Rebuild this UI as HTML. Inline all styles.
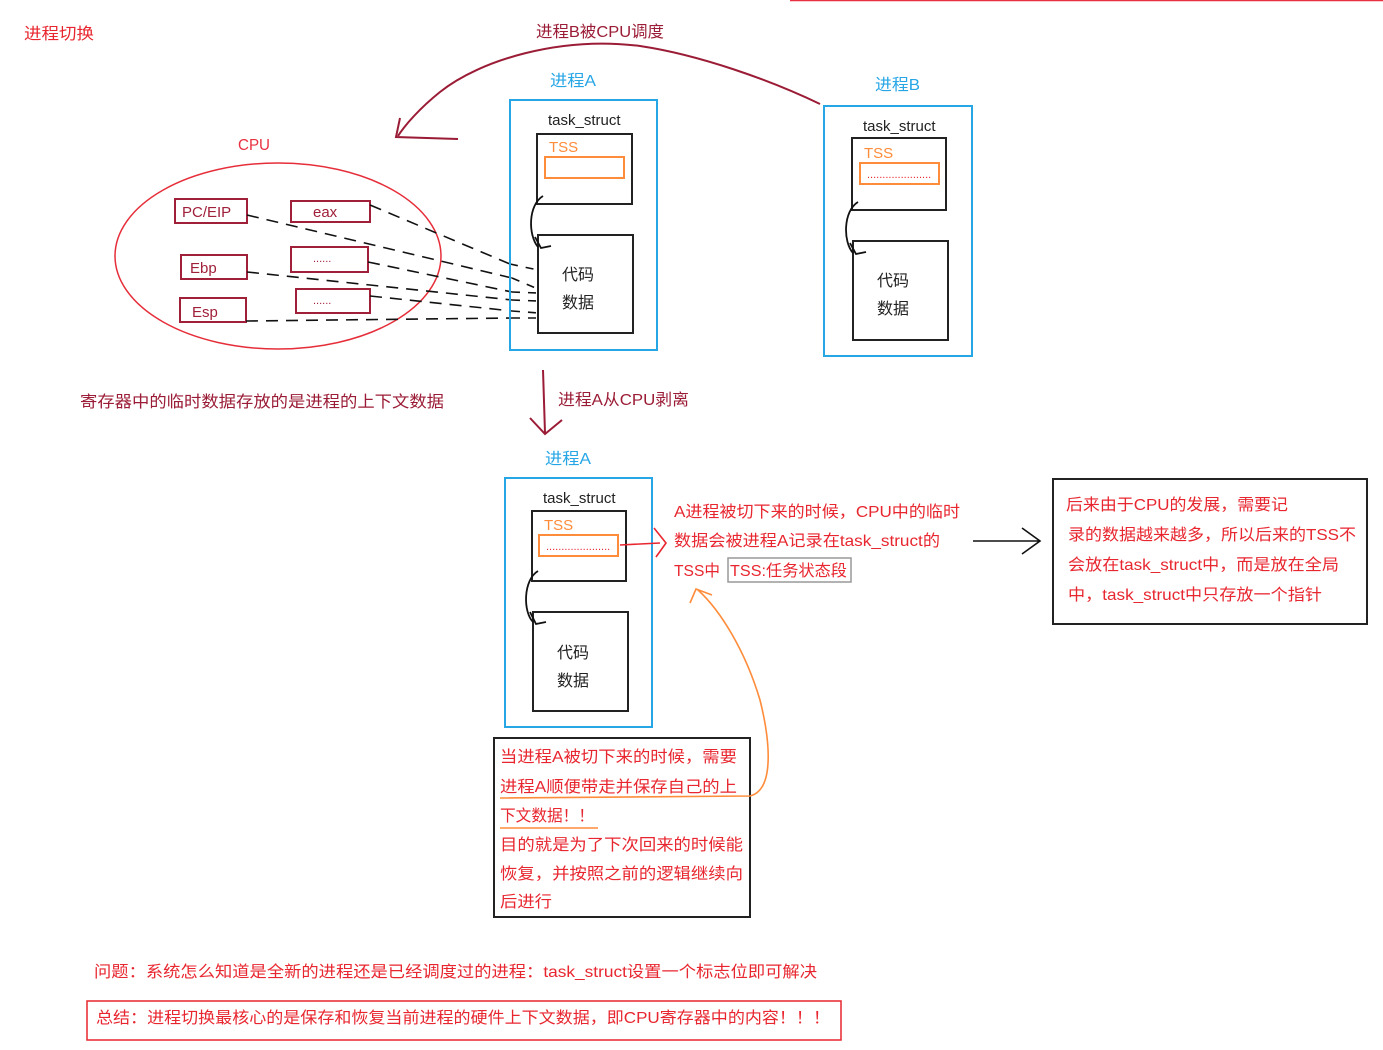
<!DOCTYPE html>
<html><head><meta charset="utf-8"><style>
html,body{margin:0;padding:0;background:#fff;}
svg{display:block;}
text{font-family:"Liberation Sans","Noto Sans CJK SC",sans-serif;}
</style></head><body>
<svg width="1383" height="1050" viewBox="0 0 1383 1050" xmlns="http://www.w3.org/2000/svg">
<line x1="790" y1="0.5" x2="1383" y2="0.5" stroke="#e83040" stroke-width="1.5"/>
<g font-size="16">
<text x="24" y="39" fill="#e8262f" textLength="70" lengthAdjust="spacingAndGlyphs">进程切换</text>
<text x="536" y="37" fill="#9b1c36" textLength="128" lengthAdjust="spacingAndGlyphs">进程B被CPU调度</text>
<text x="550" y="86" fill="#27a6e6" textLength="46" lengthAdjust="spacingAndGlyphs">进程A</text>
<text x="875" y="90" fill="#27a6e6" textLength="45" lengthAdjust="spacingAndGlyphs">进程B</text>
<text x="238" y="150" fill="#e83040" textLength="32" lengthAdjust="spacingAndGlyphs">CPU</text>
<text x="80" y="407" fill="#9b1c36" textLength="364" lengthAdjust="spacingAndGlyphs">寄存器中的临时数据存放的是进程的上下文数据</text>
<text x="558" y="405" fill="#9b1c36" textLength="131" lengthAdjust="spacingAndGlyphs">进程A从CPU剥离</text>
<text x="545" y="464" fill="#27a6e6" textLength="46" lengthAdjust="spacingAndGlyphs">进程A</text>
</g>
<!-- top curve arrow -->
<path d="M820,104 C770,80 700,55 640,46 C560,36 480,60 440,92 C420,108 405,125 398,136" fill="none" stroke="#9b1c36" stroke-width="2"/>
<path d="M400,118 L396,137 L458,139" fill="none" stroke="#9b1c36" stroke-width="2"/>
<!-- down arrow -->
<path d="M543,370 L545,433 M530,418 L545,434 L562,420" fill="none" stroke="#9b1c36" stroke-width="2"/>

<!-- CPU ellipse -->
<ellipse cx="278" cy="256" rx="163" ry="93" fill="none" stroke="#e62e3a" stroke-width="1.5"/>
<g fill="none" stroke="#a0203a" stroke-width="2">
<rect x="175" y="199" width="72" height="24"/>
<rect x="291" y="201" width="79" height="21"/>
<rect x="181" y="255" width="66" height="24"/>
<rect x="291" y="247" width="77" height="25"/>
<rect x="180" y="298" width="66" height="24"/>
<rect x="296" y="289" width="74" height="24"/>
</g>
<g font-size="15" fill="#a0203a">
<text x="182" y="217">PC/EIP</text>
<text x="313" y="217">eax</text>
<text x="190" y="273">Ebp</text>
<text x="192" y="317">Esp</text>
<text x="313" y="262" font-size="11">......</text>
<text x="313" y="304" font-size="11">......</text>
</g>
<!-- dashed lines -->
<g stroke="#111" stroke-width="1.6" fill="none" stroke-dasharray="12,8">
<line x1="370" y1="205" x2="510" y2="264"/>
<line x1="247" y1="215" x2="512" y2="278"/>
<line x1="368" y1="262" x2="512" y2="292"/>
<line x1="247" y1="272" x2="512" y2="300"/>
<line x1="370" y1="296" x2="512" y2="311"/>
<line x1="246" y1="321" x2="512" y2="318"/>
</g>
<g stroke="#111" stroke-width="1.6" fill="none" stroke-dasharray="8,8">
<line x1="510" y1="264" x2="538" y2="270"/>
<line x1="512" y1="278" x2="538" y2="289"/>
<line x1="512" y1="292" x2="538" y2="293"/>
<line x1="512" y1="300" x2="538" y2="301"/>
<line x1="512" y1="311" x2="538" y2="313"/>
<line x1="512" y1="318" x2="538" y2="318"/>
</g>

<!-- Process boxes -->
<g fill="none" stroke="#27a6e6" stroke-width="2">
<rect x="510" y="100" width="147" height="250"/>
<rect x="824" y="106" width="148" height="250"/>
<rect x="505" y="478" width="147" height="249"/>
</g>
<g fill="none" stroke="#222" stroke-width="2">
<rect x="537" y="134" width="95" height="70"/>
<rect x="538" y="235" width="95" height="98"/>
<rect x="852" y="138" width="94" height="72"/>
<rect x="853" y="241" width="95" height="99"/>
<rect x="532" y="511" width="94" height="70"/>
<rect x="533" y="612" width="95" height="99"/>
</g>
<g fill="none" stroke="#ff8c3a" stroke-width="2">
<rect x="545" y="157" width="79" height="21"/>
<rect x="860" y="163" width="79" height="21"/>
<rect x="539" y="535" width="79" height="21"/>
</g>
<g font-size="15" fill="#222">
<text x="548" y="125">task_struct</text>
<text x="863" y="131">task_struct</text>
<text x="543" y="503">task_struct</text>
</g>
<g font-size="15" fill="#ff8c3a">
<text x="549" y="152">TSS</text>
<text x="864" y="158">TSS</text>
<text x="544" y="530">TSS</text>
</g>
<g font-size="11" fill="#e8262f">
<text x="867" y="178">.....................</text>
<text x="546" y="550">.....................</text>
</g>
<g font-size="16" fill="#222">
<text x="562" y="280">代码</text><text x="562" y="308">数据</text>
<text x="877" y="286">代码</text><text x="877" y="314">数据</text>
<text x="557" y="658">代码</text><text x="557" y="686">数据</text>
</g>
<!-- curved black arrows -->
<g fill="none" stroke="#111" stroke-width="1.8">
<path d="M543,196 C528,205 528,235 538,247 M535,237 L541,248 L551,246"/>
<path d="M858,202 C843,211 843,242 853,253 M850,243 L856,254 L866,252"/>
<path d="M538,571 C523,580 523,612 533,622 M530,612 L536,624 L546,622"/>
</g>

<!-- red arrow from lower TSS -->
<path d="M620,545 L660,543 M654,528 L666,543 L656,557" fill="none" stroke="#e8262f" stroke-width="1.6"/>
<g font-size="16" fill="#e8262f">
<text x="674" y="517" textLength="286" lengthAdjust="spacingAndGlyphs">A进程被切下来的时候，CPU中的临时</text>
<text x="674" y="546" textLength="266" lengthAdjust="spacingAndGlyphs">数据会被进程A记录在task_struct的</text>
<text x="674" y="576" textLength="46" lengthAdjust="spacingAndGlyphs">TSS中</text>
<text x="730" y="576" textLength="117" lengthAdjust="spacingAndGlyphs">TSS:任务状态段</text>
</g>
<rect x="728" y="558" width="123" height="24" fill="none" stroke="#999" stroke-width="1.5"/>

<!-- right arrow -->
<path d="M973,541 L1040,541 M1022,528 L1040,541 L1022,554" fill="none" stroke="#111" stroke-width="1.6"/>
<rect x="1053" y="479" width="314" height="145" fill="none" stroke="#222" stroke-width="2"/>
<g font-size="16" fill="#e8262f">
<text x="1066" y="510" textLength="222" lengthAdjust="spacingAndGlyphs">后来由于CPU的发展，需要记</text>
<text x="1068" y="540" textLength="288" lengthAdjust="spacingAndGlyphs">录的数据越来越多，所以后来的TSS不</text>
<text x="1068" y="570" textLength="271" lengthAdjust="spacingAndGlyphs">会放在task_struct中，而是放在全局</text>
<text x="1068" y="600" textLength="254" lengthAdjust="spacingAndGlyphs">中，task_struct中只存放一个指针</text>
</g>

<!-- bottom box -->
<rect x="494" y="738" width="256" height="179" fill="none" stroke="#222" stroke-width="2"/>
<g font-size="16" fill="#e8262f">
<text x="500" y="762" textLength="237" lengthAdjust="spacingAndGlyphs">当进程A被切下来的时候，需要</text>
<text x="500" y="792" textLength="237" lengthAdjust="spacingAndGlyphs">进程A顺便带走并保存自己的上</text>
<text x="500" y="821" textLength="94" lengthAdjust="spacingAndGlyphs">下文数据！！</text>
<text x="500" y="850" textLength="243" lengthAdjust="spacingAndGlyphs">目的就是为了下次回来的时候能</text>
<text x="500" y="879" textLength="243" lengthAdjust="spacingAndGlyphs">恢复，并按照之前的逻辑继续向</text>
<text x="500" y="907" textLength="52" lengthAdjust="spacingAndGlyphs">后进行</text>
</g>
<!-- orange curve -->
<g fill="none" stroke="#ff8c3a" stroke-width="1.6">
<path d="M500,798 L750,796 C775,790 770,740 760,700 C745,650 720,610 698,590"/>
<path d="M690,603 L696,589 L712,595"/>
<line x1="500" y1="828" x2="598" y2="828"/>
</g>

<g font-size="16" fill="#e8262f">
<text x="94" y="977" textLength="723" lengthAdjust="spacingAndGlyphs">问题：系统怎么知道是全新的进程还是已经调度过的进程：task_struct设置一个标志位即可解决</text>
<text x="96" y="1023" textLength="734" lengthAdjust="spacingAndGlyphs">总结：进程切换最核心的是保存和恢复当前进程的硬件上下文数据，即CPU寄存器中的内容！！！</text>
</g>
<rect x="87" y="1001" width="754" height="39" fill="none" stroke="#e8262f" stroke-width="1.5"/>
</svg>
</body></html>
